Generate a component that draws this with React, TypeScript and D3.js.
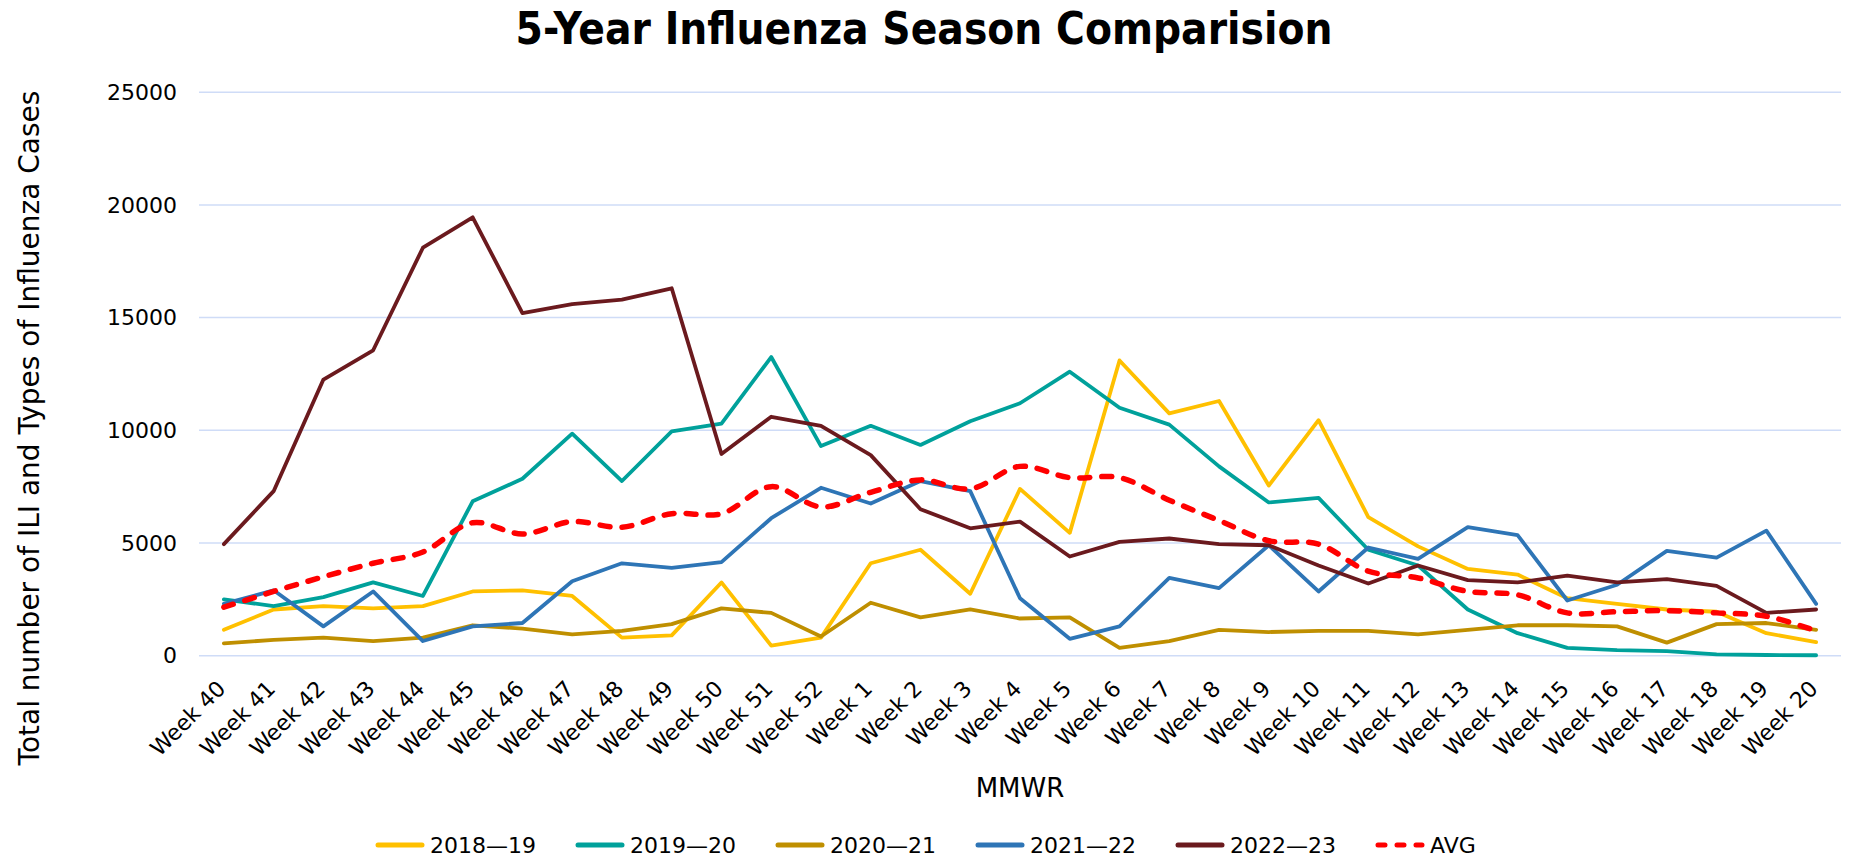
import * as d3 from 'd3'

const weeks = [
  'Week 40', 'Week 41', 'Week 42', 'Week 43', 'Week 44', 'Week 45', 'Week 46', 'Week 47', 'Week 48',
  'Week 49', 'Week 50', 'Week 51', 'Week 52', 'Week 1', 'Week 2', 'Week 3', 'Week 4', 'Week 5',
  'Week 6', 'Week 7', 'Week 8', 'Week 9', 'Week 10', 'Week 11', 'Week 12', 'Week 13', 'Week 14',
  'Week 15', 'Week 16', 'Week 17', 'Week 18', 'Week 19', 'Week 20'
]

const season2018 = [1150, 2050, 2200, 2100, 2200, 2850, 2900, 2650, 800, 900, 3250, 450, 800, 4100, 4700, 2750, 7400, 5450, 13100, 10750, 11300, 7550, 10450, 6150, 4850, 3850, 3600, 2550, 2300, 2050, 1950, 1000, 600]
const season2019 = [2500, 2200, 2600, 3250, 2650, 6850, 7850, 9850, 7750, 9950, 10300, 13250, 9300, 10200, 9350, 10400, 11200, 12600, 11000, 10250, 8400, 6800, 7000, 4700, 4000, 2050, 1000, 350, 250, 200, 60, 30, 20]
const season2020 = [550, 700, 800, 650, 800, 1350, 1200, 950, 1100, 1400, 2100, 1900, 850, 2350, 1700, 2050, 1650, 1700, 350, 650, 1150, 1050, 1100, 1100, 950, 1150, 1350, 1350, 1300, 580, 1400, 1450, 1150]
const season2021 = [2300, 2900, 1300, 2850, 650, 1300, 1450, 3300, 4100, 3900, 4150, 6100, 7450, 6750, 7750, 7300, 2550, 750, 1300, 3450, 3000, 4900, 2850, 4800, 4300, 5700, 5350, 2450, 3150, 4650, 4350, 5550, 2300]
const season2022 = [4950, 7300, 12250, 13550, 18100, 19450, 15200, 15600, 15800, 16300, 8950, 10600, 10200, 8900, 6500, 5650, 5950, 4400, 5050, 5200, 4950, 4900, 4000, 3200, 4000, 3350, 3250, 3550, 3250, 3400, 3100, 1900, 2050]
const average = [2150, 2850, 3500, 4100, 4600, 5900, 5400, 5950, 5700, 6300, 6300, 7500, 6600, 7250, 7800, 7400, 8400, 7900, 7900, 6900, 6000, 5100, 4950, 3750, 3450, 2850, 2700, 1900, 1950, 2000, 1900, 1750, 1100]

const yTicks = [0, 5000, 10000, 15000, 20000, 25000]

const seriesNames = ['2018\u201419', '2019\u201420', '2020\u201421', '2021\u201422', '2022\u201423', 'AVG']
const seriesColors = ['#FFC000', '#00A19B', '#BF8F00', '#2E75B6', '#6B1A1E', '#FF0000']
const seriesValues = [season2018, season2019, season2020, season2021, season2022, average]

const W = 1849
const H = 858
const left = 199
const right = 1841
const top = 92.2
const bottom = 655.7
const font = "'DejaVu Sans', Verdana, sans-serif"

export default function App() {
  const x = d3.scalePoint<string>().domain(weeks).range([left, right]).padding(0.5)
  const y = d3.scaleLinear().domain([0, 25000]).range([bottom, top])

  const straight = d3.line<number>()
    .x((_, i) => x(weeks[i]) ?? 0)
    .y(d => y(d))
  // AVG is drawn as a smoothed line
  const smooth = d3.line<number>()
    .x((_, i) => x(weeks[i]) ?? 0)
    .y(d => y(d))
    .curve(d3.curveCatmullRom.alpha(0.5))

  return (
    <svg
      width={W}
      height={H}
      style={{ position: 'absolute', left: 0, top: 0, background: '#fff' }}
      fontFamily={font}
    >
      <text
        x={924}
        y={44}
        textAnchor="middle"
        fontSize={45}
        fontWeight="bold"
        textLength={817}
        lengthAdjust="spacingAndGlyphs"
      >
        5-Year Influenza Season Comparision
      </text>

      {/* grid + y labels */}
      {yTicks.map(t => (
        <g key={t}>
          <line x1={left} x2={right} y1={y(t)} y2={y(t)} stroke="#CFDCF7" strokeWidth={1.5} />
          <text x={177} y={y(t)} dy="0.35em" textAnchor="end" fontSize={22} fill="#000">
            {t}
          </text>
        </g>
      ))}

      {/* x labels */}
      {weeks.map(w => {
        const px = (x(w) ?? 0) + 3
        const py = 690
        return (
          <text
            key={w}
            x={px}
            y={py}
            textAnchor="end"
            fontSize={22}
            transform={`rotate(-45 ${px} ${py})`}
          >
            {w}
          </text>
        )
      })}

      <text x={1020} y={797} textAnchor="middle" fontSize={26}>MMWR</text>
      <text
        transform="translate(39 428) rotate(-90)"
        textAnchor="middle"
        fontSize={28}
      >
        Total number of ILI and Types of Influenza Cases
      </text>

      {/* series */}
      {seriesValues.map((vals, i) => {
        const isAvg = i === 5
        return (
          <path
            key={seriesNames[i]}
            d={(isAvg ? smooth : straight)(vals) ?? ''}
            fill="none"
            stroke={seriesColors[i]}
            strokeWidth={isAvg ? 5.5 : 3.8}
            strokeDasharray={isAvg ? '10 12' : undefined}
            strokeLinecap="round"
            strokeLinejoin="round"
          />
        )
      })}

      {/* legend */}
      {seriesNames.map((name, i) => {
        const lx = 375 + i * 200
        const ly = 845
        const isAvg = i === 5
        return (
          <g key={name}>
            <line
              x1={lx + 3}
              x2={lx + 47}
              y1={ly}
              y2={ly}
              stroke={seriesColors[i]}
              strokeWidth={5}
              strokeDasharray={isAvg ? '7 12' : undefined}
              strokeLinecap="round"
            />
            <text x={lx + 55} y={ly} dy="0.35em" fontSize={22}>{name}</text>
          </g>
        )
      })}
    </svg>
  )
}
